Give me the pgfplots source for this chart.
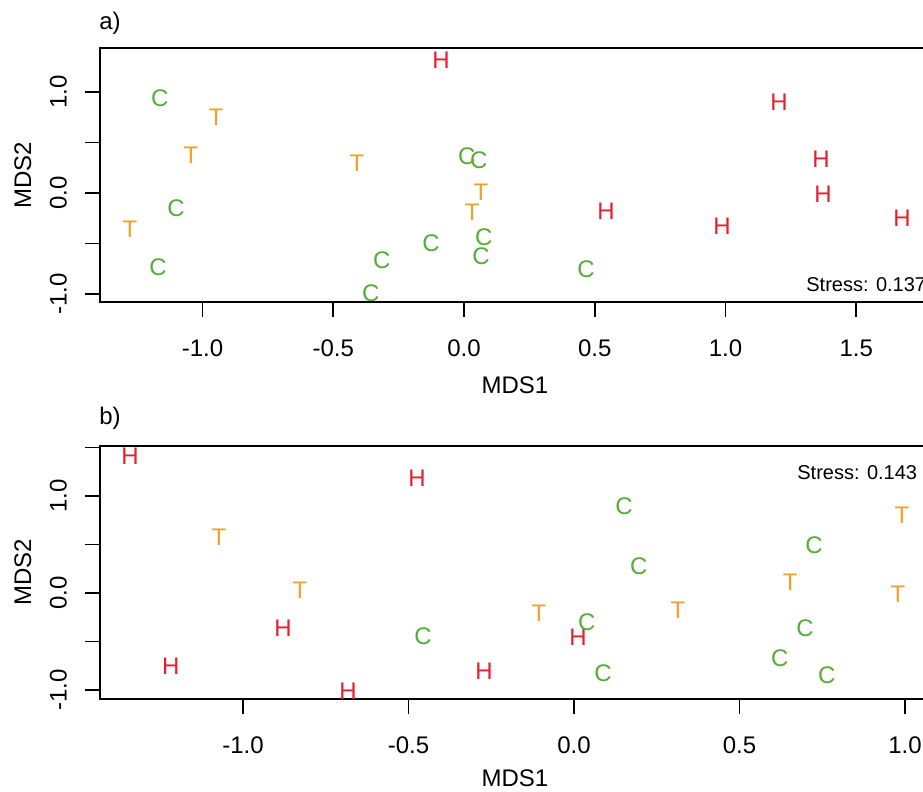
\documentclass[border=0pt]{standalone}
\usepackage{pgfplots}
\pgfplotsset{compat=1.18}
\usepackage{fontspec}
\setmainfont{Liberation Sans}
\definecolor{hred}{RGB}{228,32,45}
\definecolor{torange}{RGB}{242,160,40}
\definecolor{cgreen}{RGB}{86,172,54}
\newcommand\lab{\fontsize{12}{14}\selectfont}
\newcommand\stressfont{\fontsize{10}{12}\selectfont}
\pgfplotsset{
  mds/.style={
    scale only axis, width=415pt,
    axis line style={line width=0.9pt},
    every tick/.style={line width=0.9pt, black},
    tick align=outside, major tick length=7.5pt,
    xtick pos=bottom, ytick pos=left,
    ticklabel style={font=\lab},
    xticklabel style={anchor=north, inner sep=0pt},
    xticklabel shift=11.25pt,
    yticklabel style={rotate=90, anchor=base, inner sep=0pt},
    yticklabel shift=9.2pt,
    label style={font=\lab},
    xlabel={MDS1}, ylabel={MDS2},
    ylabel style={at={(rel axis cs:-0.0928,0.5)}, anchor=center, rotate=0},
  },
  grp/.style={only marks, mark=none, nodes near coords={#1},
    nodes near coords align={center},
    every node near coord/.style={anchor=center, inner sep=0pt, font=\lab}},
}
\begin{document}
\begin{tikzpicture}[x=1pt,y=1pt]
\useasboundingbox (0,0) rectangle (461.5,-396);
\clip (0,0) rectangle (461.5,-396);
\node[anchor=center, inner sep=0pt, font=\lab] at (55,-11.5) {a)};
\begin{axis}[mds, at={(50pt,-151pt)}, anchor=south west, height=127pt,
  xmin=-1.392, xmax=1.782, ymin=-1.079, ymax=1.436,
  xtick={-1,-0.5,0,0.5,1,1.5}, xticklabels={-1.0,-0.5,0.0,0.5,1.0,1.5},
  ytick={-1,-0.5,0,0.5,1}, yticklabels={-1.0,,0.0,,1.0},
  xlabel style={at={(rel axis cs:0.5,-0.3268)}, anchor=center}]
\addplot[grp={H}, every node near coord/.append style={text=hred}] coordinates {
(-0.088,1.317) (0.543,-0.178) (0.987,-0.327) (1.205,0.901) (1.365,0.337) (1.373,-0.010) (1.675,-0.248)};
\addplot[grp={T}, every node near coord/.append style={text=torange}] coordinates {
(-0.948,0.752) (-1.044,0.376) (-0.409,0.297) (-1.277,-0.356) (0.065,0.010) (0.031,-0.188)};
\addplot[grp={C}, every node near coord/.append style={text=cgreen}] coordinates {
(-1.163,0.941) (-1.101,-0.149) (-1.170,-0.733) (-0.126,-0.495) (-0.314,-0.663) (-0.356,-0.990)
(0.011,0.366) (0.057,0.327) (0.076,-0.436) (0.065,-0.624) (0.467,-0.752)};
\end{axis}
\node[anchor=west, inner sep=0pt, font=\stressfont] at (403,-142.5) {Stress: 0.137};
\node[anchor=center, inner sep=0pt, font=\lab] at (55,-209) {b)};
\begin{axis}[mds, at={(50pt,-349.5pt)}, anchor=south west, height=126.5pt,
  xmin=-1.432, xmax=1.0755, ymin=-1.093, ymax=1.515,
  xtick={-1,-0.5,0,0.5,1}, xticklabels={-1.0,-0.5,0.0,0.5,1.0},
  ytick={-1,-0.5,0,0.5,1,1.5}, yticklabels={-1.0,,0.0,,1.0,},
  xlabel style={at={(rel axis cs:0.5,-0.3123)}, anchor=center}]
\addplot[grp={H}, every node near coord/.append style={text=hred}] coordinates {
(-1.341,1.412) (-0.474,1.186) (-0.879,-0.361) (-1.218,-0.753) (-0.683,-1.010) (0.012,-0.454) (-0.272,-0.804)};
\addplot[grp={T}, every node near coord/.append style={text=torange}] coordinates {
(-1.073,0.577) (-0.828,0.031) (-0.106,-0.206) (0.314,-0.175) (0.653,0.106) (0.991,0.804) (0.979,-0.010)};
\addplot[grp={C}, every node near coord/.append style={text=cgreen}] coordinates {
(-0.456,-0.443) (0.151,0.897) (0.196,0.278) (0.039,-0.299) (0.088,-0.825) (0.725,0.495) (0.698,-0.361) (0.622,-0.670) (0.764,-0.845)};
\end{axis}
\node[anchor=west, inner sep=0pt, font=\stressfont] at (398.5,-236.25) {Stress: 0.143};
\end{tikzpicture}
\end{document}
